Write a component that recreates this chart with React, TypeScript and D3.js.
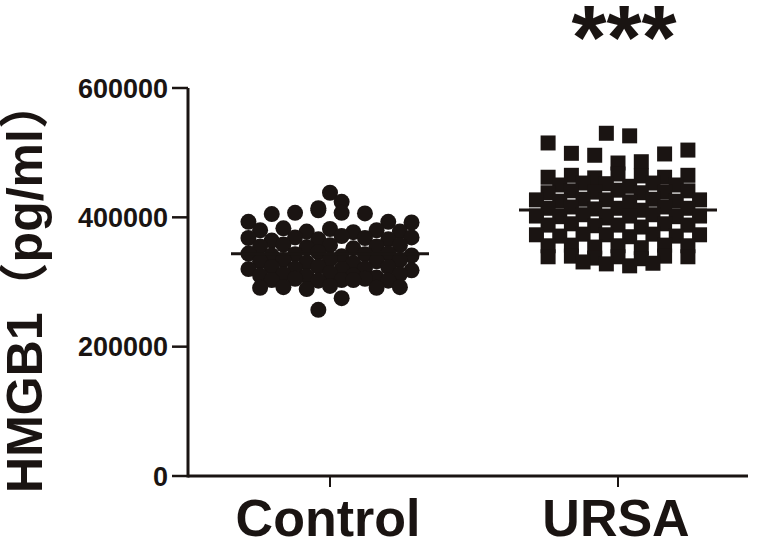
import * as d3 from 'd3';

// Values; each inner array is one row of the scatter, left to right
const categories = ['Control', 'URSA'];
const yTicks = [0, 200000, 400000, 600000];

const controlRows: number[][] = [
  [438000],
  [414000, 424000],
  [393000, 405000, 407000, 411000, 407000, 406000, 393000, 392000],
  [380000, 383000, 378000, 382000, 377000, 380000, 378000],
  [368000, 364000, 369000, 366000, 371000, 368000, 366000, 369000],
  [355000, 358000, 354000, 357000, 352000, 355000, 357000],
  [344000, 341000, 343000, 346000, 340000, 343000, 344000, 341000],
  [332000, 334000, 330000, 335000, 329000, 332000, 334000],
  [320000, 323000, 321000, 324000, 320000, 321000, 323000, 318000],
  [310000, 312000, 309000, 314000, 310000, 307000, 312000],
  [303000, 305000, 302000, 303000, 305000, 302000],
  [291000, 292000, 289000, 294000, 303000, 291000, 292000],
  [257000, 275000],
];

const ursaRows: number[][] = [
  [530000, 526000],
  [515000, 499000, 496000, 484000, 486000, 498000, 504000],
  [462000, 465000, 461000, 467000, 464000, 462000, 465000],
  [450000, 453000, 452000, 448000, 453000, 450000],
  [438000, 441000, 439000, 442000, 438000, 439000, 441000],
  [427000, 425000, 428000, 427000, 424000, 428000, 425000, 427000],
  [414000, 416000, 413000, 414000, 411000, 416000, 414000],
  [402000, 401000, 404000, 399000, 402000, 404000, 401000, 402000],
  [388000, 390000, 387000, 388000, 385000, 390000, 388000],
  [373000, 371000, 374000, 373000, 370000, 374000, 371000, 373000],
  [356000, 357000, 354000, 356000, 353000, 357000, 356000],
  [339000, 340000, 337000, 339000, 336000, 340000, 339000],
  [331000, 328000, 325000, 329000],
];

const yTitle = 'HMGB1（pg/ml）';
const significance = '***';

const W = 758;
const H = 544;
const INK = '#1a1412';
const FONT = '"Liberation Sans", Arial, Helvetica, "Noto Sans CJK SC", sans-serif';

// spread the points of each row side by side around the group centre
function layoutRows(rows: number[][], cx: number, slot: number) {
  return rows.flatMap((row) =>
    row.map((value, i) => ({ value, x: cx + (i - (row.length - 1) / 2) * slot }))
  );
}

export default function App() {
  const axisLeft = 188;
  const axisRight = 748;
  const y = d3.scaleLinear().domain([0, 600000]).range([476, 88]);
  const x = d3.scalePoint<string>().domain(categories).range([330, 618]);

  const slot = 23.3;
  const meanHalf = 99;

  const groups = [
    { name: 'Control', rows: controlRows, symbol: d3.symbolCircle, size: Math.PI * 8 * 8 },
    { name: 'URSA', rows: ursaRows, symbol: d3.symbolSquare, size: 15 * 15 },
  ];

  return (
    <svg
      width={W}
      height={H}
      style={{ position: 'absolute', left: 0, top: 0, background: '#fff' }}
      fontFamily={FONT}
    >
      {/* points and mean lines */}
      {groups.map((g) => {
        const cx = x(g.name) as number;
        const pts = layoutRows(g.rows, cx, slot);
        const path = d3.symbol().type(g.symbol).size(g.size)() as string;
        const mean = d3.mean(g.rows.flat()) as number;
        return (
          <g key={g.name}>
            {pts.map((p, i) => (
              <path key={i} d={path} transform={`translate(${p.x},${y(p.value)})`} fill={INK} />
            ))}
            <line
              x1={cx - meanHalf}
              x2={cx + meanHalf}
              y1={y(mean)}
              y2={y(mean)}
              stroke={INK}
              strokeWidth={3}
            />
          </g>
        );
      })}

      {/* y axis */}
      <line x1={axisLeft} x2={axisLeft} y1={y(600000)} y2={y(0) + 1.5} stroke={INK} strokeWidth={3} />
      {yTicks.map((t) => (
        <g key={t}>
          <line x1={axisLeft - 16} x2={axisLeft} y1={y(t)} y2={y(t)} stroke={INK} strokeWidth={2.5} />
          <text
            x={axisLeft - 20}
            y={y(t)}
            dy="0.36em"
            textAnchor="end"
            fontSize={27}
            fontWeight="bold"
            fill={INK}
          >
            {t}
          </text>
        </g>
      ))}

      {/* x axis */}
      <line x1={axisLeft} x2={axisRight} y1={y(0)} y2={y(0)} stroke={INK} strokeWidth={3} />
      {categories.map((c) => (
        <g key={c}>
          <line x1={x(c)} x2={x(c)} y1={y(0)} y2={y(0) + 11} stroke={INK} strokeWidth={2} />
          <text x={(x(c) as number) - 2} y={536} textAnchor="middle" fontSize={52} fontWeight="bold" fill={INK}>
            {c}
          </text>
        </g>
      ))}

      {/* y title */}
      <text
        transform={`translate(42,286) rotate(-90)`}
        textAnchor="middle"
        fontSize={50}
        fontWeight="bold"
        fill={INK}
      >
        {yTitle}
      </text>

      {/* significance */}
      <text x={(x('URSA') as number) + 6} y={69} textAnchor="middle" fontSize={90} fontWeight="bold" fill={INK}>
        {significance}
      </text>
    </svg>
  );
}
